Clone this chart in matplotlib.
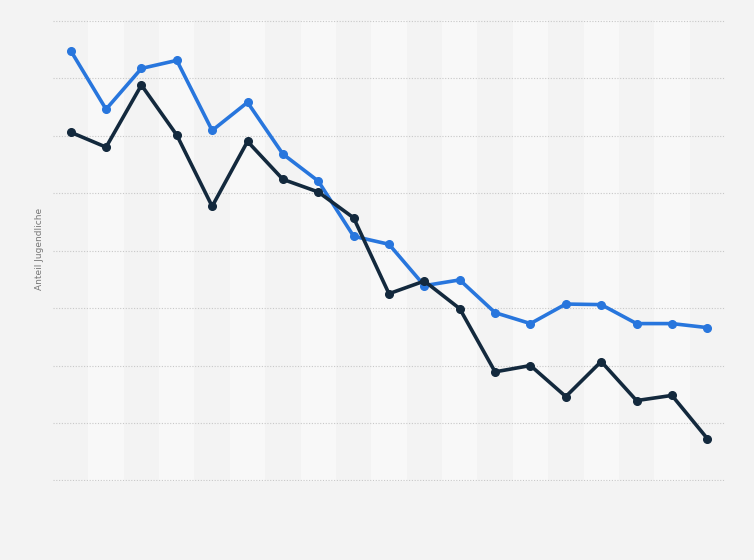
import matplotlib
matplotlib.use('Agg')
import matplotlib.pyplot as plt

jahre_idx = list(range(19))
serie_blau = [7.48, 6.46, 7.17, 7.31, 6.09, 6.58, 5.68, 5.21, 4.25, 4.11,
              3.39, 3.49, 2.92, 2.73, 3.07, 3.06, 2.73, 2.73, 2.66]
serie_dunkel = [6.06, 5.80, 6.88, 6.01, 4.77, 5.90, 5.24, 5.02, 4.57, 3.25,
                3.47, 2.99, 1.89, 2.00, 1.46, 2.07, 1.39, 1.48, 0.73]
y_ticks = [0, 1, 2, 3, 4, 5, 6, 7, 8]

fondo = '#f3f3f3'
fig = plt.figure(figsize=(7.54, 5.6), dpi=100, facecolor=fondo)
ax = fig.add_axes([0.0703, 0.141, 0.8912, 0.823])
ax.set_facecolor(fondo)

# Streifen im Hintergrund
for i in jahre_idx:
    if i % 2 == 1:
        ax.axvspan(i - 0.5, i + 0.5, color='#f8f8f8', zorder=0, lw=0)

ax.plot(jahre_idx, serie_blau, color='#2876dd', lw=2.6, marker='o', markersize=5.5, zorder=3)
ax.plot(jahre_idx, serie_dunkel, color='#13293d', lw=2.6, marker='o', markersize=5.5, zorder=4)

ax.set_xlim(-0.5, 18.5)
ax.set_ylim(-0.01, 8.01)
ax.set_yticks(y_ticks)
ax.set_xticks([])
ax.grid(axis='y', linestyle=(0, (1, 1.5)), color='#c8c8c8', lw=0.8, zorder=1)
ax.tick_params(axis='y', length=0, labelleft=False)
for s in ax.spines.values():
    s.set_visible(False)

fig.text(0.053, 0.555, 'Anteil Jugendliche', rotation=90, fontsize=6.5,
         color='#777777', ha='center', va='center')

plt.savefig('out.png', dpi=100, facecolor=fondo)
